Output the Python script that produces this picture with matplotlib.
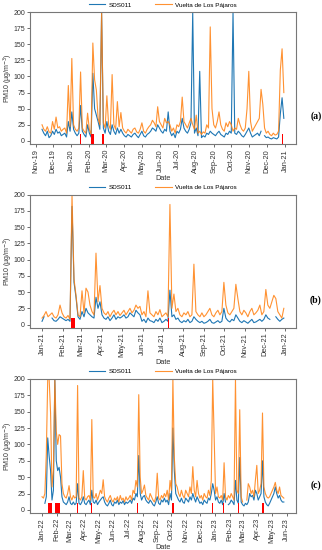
import matplotlib
matplotlib.use("Agg")
import matplotlib.pyplot as plt
import matplotlib.dates as mdates
import numpy as np
import pandas as pd

nan = np.nan

# panel (a): Nov 2019 - Dec 2020, values every 3 days
dates_a = pd.date_range("2019-11-12", periods=139, freq="3D")
vuelta_a = [
    25, 18, 15, 22, 14, 12, 30, 18, 37, 20,
    22, 15, 18, 20, 12, 86, 22, 128, 25, 18,
    15, 20, 107, 20, 15, 12, 43, 18, 10, 152,
    95, 79, 35, 25, 200, 28, 20, 70, 25, 18,
    103, 25, 18, 61, 22, 44, 20, 15, 12, 18,
    15, 12, 18, 20, 14, 12, 18, 28, 15, 12,
    18, 22, 25, 32, 28, 22, 53, 30, 25, 20,
    35, 28, 30, 25, 15, 20, 12, 25, 22, 30,
    68, 30, 25, 20, 28, 35, 25, 18, 40, 12,
    15, 10, 14, 12, 25, 20, 177, 50, 25, 20,
    30, 45, 25, 18, 15, 28, 22, 30, 25, 15,
    20, 18, 35, 25, 18, 15, 20, 50, 108, 30,
    15, 20, 25, 30, 35, 80, 57, 20, 12, 15,
    10, 8, 12, 9, 10, 15, 110, 143, 75,
]
sds_a = [
    18, 12, 8, 15, 5, 8, 15, 10, 18, 12,
    14, 8, 10, 12, 6, 30, 15, 45, 18, 12,
    8, 12, 55, 15, 10, 6, 25, 12, 6, 105,
    50, 40, 30, 18, 200, 20, 12, 30, 15, 10,
    25, 15, 10, 20, 12, 18, 12, 8, 6, 10,
    8, 6, 10, 12, 8, 5, 10, 15, 8, 6,
    10, 12, 15, 20, 18, 15, 25, 20, 15, 12,
    18, 15, 45, 15, 8, 12, 5, 15, 12, 18,
    35, 20, 15, 12, 18, 28, 200, 12, 20, 8,
    108, 5, 8, 6, 12, 10, 15, 12, 10, 8,
    12, 15, 10, 8, 6, 12, 10, 15, 12, 200,
    12, 10, 15, 12, 8, 6, 10, 15, 20, 12,
    6, 8, 10, 12, 8, 15, nan, 8, 5, 6,
    4, 3, 5, 4, 3, 6, 42, 67, 35,
]
events_a = ["2020-01-17", "2020-02-05", "2020-02-06", "2020-02-08",
            "2020-02-24", "2020-02-25", "2020-12-27"]

# panel (b): 2021
dates_b = pd.date_range("2021-01-01", periods=122, freq="3D")
vuelta_b = [
    10, 14, 20, 12, 15, 18, 12, 10, 15, 30,
    18, 12, 10, 14, 8, 200, 70, 45, 15, 12,
    52, 18, 56, 50, 30, 20, 15, 110, 35, 60,
    25, 18, 15, 20, 12, 18, 22, 15, 20, 14,
    18, 22, 15, 20, 25, 18, 22, 30, 25, 28,
    15, 20, 12, 52, 18, 15, 12, 20, 15, 23,
    12, 15, 18, 12, 185, 25, 47, 20, 25, 15,
    12, 18, 15, 20, 12, 15, 93, 20, 15, 12,
    18, 12, 15, 20, 25, 15, 12, 18, 22, 15,
    20, 65, 30, 18, 15, 20, 25, 62, 40, 20,
    15, 22, 18, 12, 20, 25, 15, 18, 22, 30,
    15, 20, 54, 30, 25, 35, 45, 40, 20, 15,
    10, 25,
]
sds_b = [
    5, 12, nan, 0, nan, 10, 6, 5, 8, 12,
    10, 8, 6, 8, 5, 182, 65, 42, 12, 8,
    20, 12, 25, 18, 15, 12, 10, 42, 25, 35,
    15, 10, 8, 12, 6, 10, 15, 8, 12, 10,
    12, 15, 10, 12, 18, 15, 12, 22, 18, 15,
    5, 8, 3, 10, 6, 5, 3, 8, 5, 10,
    3, 5, 8, 5, 53, 12, 15, 8, 10, 5,
    3, 6, 4, 8, 3, 5, 12, 8, 5, 3,
    5, 2, 3, 5, 8, 3, 2, 4, 6, 3,
    5, 25, 10, 6, 4, 8, 6, 15, 10, 5,
    3, 6, 4, 2, 5, 8, 3, 4, 6, 8,
    5, 8, 15, 10, 8, nan, nan, 12, 8, 5,
    8, 10,
]
events_b = ["2021-02-15", "2021-02-16", "2021-02-17", "2021-02-18",
            "2021-02-19", "2021-07-10"]

# panel (c): Jan 2022 - May 2023
dates_c = pd.date_range("2022-01-01", periods=171, freq="3D")
vuelta_c = [
    20, 18, 25, 85, 200, 200, 148, 35, 60, 200,
    120, 100, 115, 113, 40, 25, 20, 18, 25, 37,
    20, 15, 22, 18, 20, 190, 18, 15, 20, 60,
    18, 15, 20, 22, 15, 138, 20, 18, 25, 15,
    22, 30, 25, 46, 20, 15, 12, 18, 22, 15,
    12, 18, 15, 20, 12, 22, 15, 18, 12, 20,
    15, 18, 22, 15, 30, 25, 45, 35, 176, 50,
    25, 30, 38, 22, 18, 15, 25, 20, 15, 12,
    20, 56, 18, 15, 22, 18, 25, 20, 30, 15,
    45, 30, 200, 80, 40, 35, 25, 20, 30, 22,
    18, 30, 25, 20, 35, 25, 66, 30, 20, 45,
    25, 18, 22, 15, 25, 20, 18, 30, 22, 45,
    200, 110, 25, 35, 20, 18, 22, 15, 72, 20,
    15, 22, 18, 25, 20, 15, 200, 30, 25, 153,
    20, 12, nan, nan, 15, 40, 35, 25, 30, 20,
    45, 68, 25, 30, 40, 148, 35, 25, 20, 18,
    20, 25, 30, 35, 42, 30, 25, 35, 22, 20, 18,
]
sds_c = [
    5, nan, 10, 20, 110, 82, 60, 15, 30, 200,
    75, 60, 65, 50, 20, 12, 10, 8, 12, 20,
    10, 8, 12, 8, 10, 40, 10, 8, 12, 20,
    10, 8, 12, 15, 8, 30, 12, 10, 15, 8,
    12, 15, 18, 20, 12, 8, 6, 10, 15, 8,
    6, 12, 10, 15, 8, 12, 10, 14, 8, 12,
    10, 12, 15, 10, 18, 15, 25, 20, 83, 25,
    15, 20, 22, 15, 12, 10, 15, 12, 8, 6,
    12, 20, 10, 8, 15, 12, 18, 12, 15, 8,
    25, 15, 125, 60, 25, 20, 15, 12, 18, 12,
    10, 18, 15, 12, 20, 15, 25, 18, 12, 20,
    15, 10, 12, 8, 15, 12, 10, 18, 15, 25,
    40, 30, 15, 20, 12, 10, 15, 8, 25, 12,
    nan, 8, 10, 15, 12, 8, 45, 15, 10, 80,
    12, 8, 6, 10, 8, 12, 25, 20, 22, 15,
    30, 25, 15, 20, 25, 75, 20, 12, 8, 6,
    10, 15, 20, 25, 35, 25, 18, 22, 15, 12, 12,
]
events_c = ["2022-01-14", "2022-01-15", "2022-01-16", "2022-01-17", "2022-01-18",
            "2022-01-19", "2022-01-20", "2022-01-21",
            "2022-01-29", "2022-01-30", "2022-01-31", "2022-02-01", "2022-02-02",
            "2022-02-03", "2022-02-04", "2022-02-05", "2022-02-06", "2022-02-07",
            "2022-02-12", "2022-03-17", "2022-04-16", "2022-07-22",
            "2022-10-02", "2022-10-03", "2022-10-04", "2022-10-05", "2022-10-06",
            "2022-12-26", "2023-01-18", "2023-02-12", "2023-02-20",
            "2023-04-10", "2023-04-11", "2023-04-12", "2023-04-13"]

yticks = [0, 25, 50, 75, 100, 125, 150, 175, 200]
panel_labels = ["(a)", "(b)", "(c)"]

plt.rcParams["font.family"] = ["Liberation Sans", "DejaVu Sans"]

fig = plt.figure(figsize=(3.22, 5.5), dpi=100)
boxes = [
    [0.093, 0.738, 0.826, 0.240],
    [0.093, 0.404, 0.826, 0.242],
    [0.093, 0.067, 0.826, 0.244],
]
panels = [
    (dates_a, sds_a, vuelta_a, events_a),
    (dates_b, sds_b, vuelta_b, events_b),
    (dates_c, sds_c, vuelta_c, events_c),
]

for box, (dts, sds, vue, ev), lab in zip(boxes, panels, panel_labels):
    ax = fig.add_axes(box)
    ax.plot(dts, sds, color="#1f77b4", lw=0.8, label="SDS011")
    ax.plot(dts, vue, color="#ff7f0e", lw=0.8, alpha=0.85, label="Vuelta de Los Pájaros")
    ax.bar(pd.to_datetime(ev), 15, bottom=-5, width=1.6, color="red", zorder=3)
    ax.set_ylim(-5, 200)
    ax.set_yticks(yticks)
    ax.xaxis.set_major_locator(mdates.MonthLocator())
    ax.xaxis.set_major_formatter(mdates.DateFormatter("%b-%y"))
    ax.tick_params(axis="x", labelrotation=90, labelsize=5.3, length=2, width=0.5,
                   colors="#333333", pad=1.5)
    ax.tick_params(axis="y", labelsize=5, length=2, width=0.5, colors="#333333", pad=1.5)
    for s in ax.spines.values():
        s.set_color("#777777")
        s.set_linewidth(0.8)
    ax.set_xlabel("Date", fontsize=5.3, labelpad=1, color="#333333")
    ax.set_ylabel("PM10 (µg/m$^{-3}$)", fontsize=5, color="#333333")
    ax.yaxis.set_label_coords(-0.058, 0.5)
    ax.legend(loc="lower center", bbox_to_anchor=(0.5, 1.0), ncol=2, frameon=False,
              fontsize=4.6, handlelength=2.6, columnspacing=3.5, borderpad=0.2,
              handletextpad=0.6)
    ax.text(1.075, 0.21, lab, transform=ax.transAxes, fontsize=7, fontweight="bold",
            family="Liberation Serif", ha="center", va="center")

fig.savefig("out.png", dpi=100)
